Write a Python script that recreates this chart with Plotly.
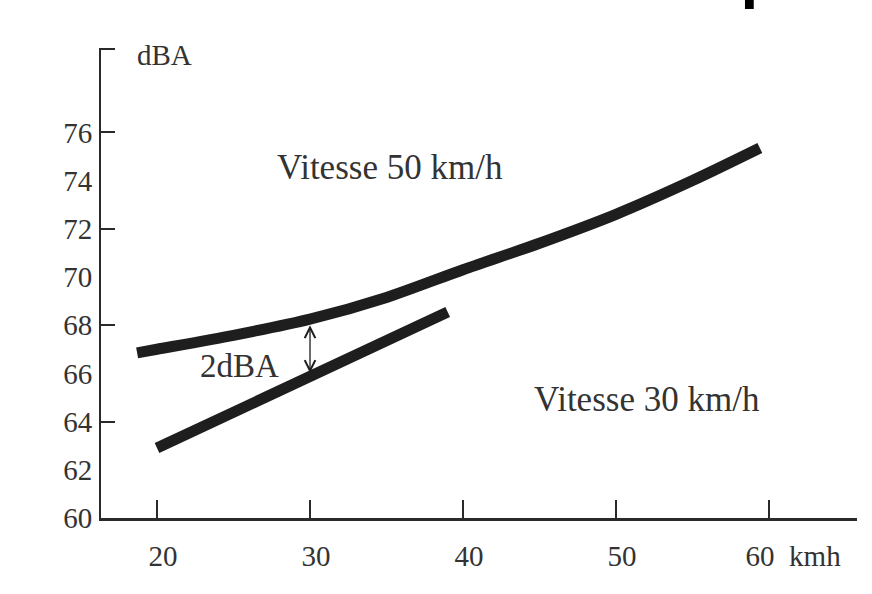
import plotly.graph_objects as go

# ---- data ----
speed_50_x = [18.7, 20, 25, 30, 35, 40, 45, 50, 55, 59.4]
speed_50_y = [66.85, 67.0, 67.58, 68.25, 69.15, 70.3, 71.4, 72.6, 74.0, 75.35]
speed_30_x = [20, 30, 39]
speed_30_y = [62.9, 65.85, 68.55]
x_ticks = [20, 30, 40, 50, 60]
x_ticklabels = ["20", "30", "40", "50", "\u00a0" * 5 + "60\u00a0\u00a0kmh"]
y_ticks = [60, 62, 64, 66, 68, 70, 72, 74, 76]
y_ticklabels = [str(v) for v in y_ticks]
y_major_marks = [64, 68, 72, 76, 79.45]
gap_x = 30
gap_low, gap_high = 65.95, 68.0

INK = "#1e1e1e"
TXT = "#333333"
SERIF = "Liberation Serif, Times New Roman, serif"

fig = go.Figure()
fig.add_trace(go.Scatter(x=speed_50_x, y=speed_50_y, mode="lines",
                         line=dict(color=INK, width=11, shape="spline", smoothing=0.8),
                         hoverinfo="skip", showlegend=False))
fig.add_trace(go.Scatter(x=speed_30_x, y=speed_30_y, mode="lines",
                         line=dict(color=INK, width=11),
                         hoverinfo="skip", showlegend=False))
# dummy trace so the tick-mark overlay axis is drawn
fig.add_trace(go.Scatter(x=[None], y=[None], yaxis="y2", mode="lines",
                         hoverinfo="skip", showlegend=False))

fig.update_layout(
    width=872, height=594, autosize=False,
    margin=dict(l=101, r=15, t=48, b=76),
    paper_bgcolor="white", plot_bgcolor="white",
    xaxis=dict(range=[16.34, 65.75], showgrid=False, zeroline=False, automargin=False,
               showline=True, linecolor="#2a2a2a", linewidth=3,
               tickvals=x_ticks, ticktext=x_ticklabels,
               ticks="inside", ticklen=18, tickwidth=2, tickcolor="#2a2a2a",
               ticklabelstandoff=10, ticklabelshift=6,
               tickfont=dict(family=SERIF, size=29, color=TXT)),
    yaxis=dict(range=[60, 79.5], showgrid=False, zeroline=False, automargin=False,
               showline=True, linecolor="#2a2a2a", linewidth=2,
               tickvals=y_ticks, ticktext=y_ticklabels, ticks="",
               ticklabelstandoff=1,
               tickfont=dict(family=SERIF, size=29, color=TXT)),
    yaxis2=dict(range=[60, 79.5], overlaying="y", side="left", anchor="x",
                automargin=False,
                showgrid=False, zeroline=False, showline=False,
                tickvals=y_major_marks, ticks="inside", ticklen=14,
                tickwidth=2, tickcolor="#2a2a2a", showticklabels=False),
)

fig.add_annotation(x=gap_x, y=gap_high, ax=gap_x, ay=gap_low,
                   xref="x", yref="y", axref="x", ayref="y",
                   text="", showarrow=True, arrowhead=5, startarrowhead=5,
                   arrowside="end+start", arrowsize=1.6, startarrowsize=1.6,
                   arrowwidth=1.3, arrowcolor=INK)

fig.add_annotation(x=25.36, y=66.3, xref="x", yref="y", text="2dBA",
                   showarrow=False, font=dict(family=SERIF, size=33, color=TXT))
fig.add_annotation(x=35.2, y=74.55, xref="x", yref="y", text="Vitesse 50 km/h",
                   showarrow=False, font=dict(family=SERIF, size=35, color=TXT))
fig.add_annotation(x=52.0, y=64.9, xref="x", yref="y", text="Vitesse 30 km/h",
                   showarrow=False, font=dict(family=SERIF, size=35, color=TXT))
fig.add_annotation(x=20.5, y=79.2, xref="x", yref="y", text="dBA",
                   showarrow=False, font=dict(family=SERIF, size=29, color=TXT))
# heading that the reference shows cut off at the very top edge
fig.add_annotation(x=0.477, y=1.0767, xref="paper", yref="paper", text="<b>Vitesse apaisée</b>",
                   xanchor="left", yanchor="bottom", showarrow=False,
                   font=dict(family="Liberation Sans, Arial, sans-serif", size=64, color="black"))

fig.write_html("out.html", config={"displayModeBar": False},
               post_script="document.body.style.margin='0';")
